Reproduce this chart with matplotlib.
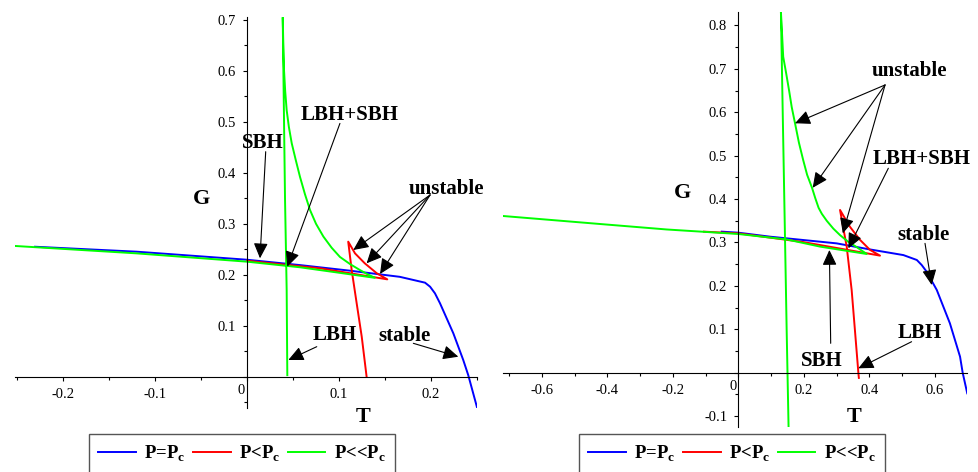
import matplotlib
matplotlib.use('Agg')
import matplotlib.pyplot as plt
from matplotlib.ticker import MultipleLocator, FuncFormatter

plt.rcParams['font.family'] = 'Liberation Serif'
plt.rcParams['mathtext.fontset'] = 'custom'
plt.rcParams['mathtext.rm'] = 'Liberation Serif'
plt.rcParams['mathtext.bf'] = 'Liberation Serif:bold'

# ---------- left panel: G(T) curves ----------
# P = Pc
l_blue_T = [-0.2304, -0.12, 0.0, 0.0576, 0.112, 0.166, 0.1935, 0.199, 0.2043, 0.2098, 0.2243, 0.235, 0.2405, 0.2503]
l_blue_G = [0.255, 0.2453, 0.2295, 0.219, 0.208, 0.196, 0.1845, 0.1766, 0.1636, 0.144, 0.085, 0.033, 0.003, -0.062]
# P < Pc  (small BH branch -> cusp -> unstable -> large BH branch)
l_red_T = [0.0, 0.0793, 0.1525, 0.141, 0.128, 0.1174, 0.110, 0.1138, 0.1192, 0.1247, 0.130]
l_red_G = [0.2275, 0.2127, 0.191, 0.203, 0.2225, 0.242, 0.265, 0.209, 0.144, 0.0785, 0.0]
# P << Pc
l_green_T = [-0.252, -0.12, 0.0, 0.0576, 0.1, 0.139, 0.131, 0.123, 0.112, 0.101, 0.092, 0.083, 0.075,
             0.0685, 0.063, 0.0576, 0.053, 0.0486, 0.0455, 0.0431, 0.0415, 0.0402, 0.0395, 0.0388,
             0.0413, 0.0431, 0.0438]
l_green_G = [0.2565, 0.242, 0.2257, 0.2147, 0.204, 0.194, 0.201, 0.209, 0.221, 0.235, 0.253, 0.275, 0.30,
             0.327, 0.358, 0.392, 0.425, 0.458, 0.49, 0.523, 0.56, 0.602, 0.65, 0.705,
             0.35, 0.17, 0.003]

# ---------- right panel ----------
r_blue_T = [-0.0507, 0.0, 0.0968, 0.300, 0.402, 0.504, 0.545, 0.56, 0.575, 0.606, 0.646, 0.677, 0.685, 0.699]
r_blue_G = [0.325, 0.3226, 0.3134, 0.298, 0.284, 0.271, 0.2597, 0.248, 0.2327, 0.1905, 0.1138, 0.0369, 0.0, -0.0475]
r_red_T = [-0.105, 0.0, 0.198, 0.4327, 0.402, 0.3716, 0.341, 0.3105, 0.331, 0.346, 0.356, 0.3665, 0.368]
r_red_G = [0.325, 0.321, 0.301, 0.2697, 0.283, 0.306, 0.336, 0.375, 0.290, 0.1906, 0.098, 0.0, -0.012]
r_green_T = [-0.7176, -0.4223, -0.2187, 0.0, 0.148, 0.2495, 0.392, 0.36, 0.335, 0.3105, 0.29, 0.27, 0.255,
             0.245, 0.235, 0.225, 0.21, 0.198, 0.185, 0.173, 0.163, 0.155, 0.146, 0.137, 0.130,
             0.1355, 0.1426, 0.1475, 0.1535]
r_green_G = [0.361, 0.3426, 0.330, 0.3196, 0.307, 0.2905, 0.2735, 0.29, 0.302, 0.317, 0.332, 0.35, 0.366,
             0.38, 0.402, 0.426, 0.456, 0.49, 0.53, 0.575, 0.612, 0.65, 0.69, 0.728, 0.832,
             0.6, 0.306, 0.1, -0.13]

legend_labels = ['P=P$_\\mathbf{c}$', 'P<P$_\\mathbf{c}$', 'P<<P$_\\mathbf{c}$']

# annotations: (text, text position, [(arrow start, arrow tip), ...])
l_notes = [
    ('SBH', (0.0177, 0.458), [((0.0203, 0.4415), (0.0141, 0.2323))]),
    ('LBH+SBH', (0.112, 0.5135), [((0.101, 0.497), (0.0438, 0.2159))]),
    ('unstable', (0.2163, 0.3677), [((0.199, 0.3566), (0.1155, 0.2486)),
                                    ((0.199, 0.3566), (0.130, 0.2225)),
                                    ((0.199, 0.3566), (0.1446, 0.2015))]),
    ('LBH', (0.0957, 0.0818), [((0.0758, 0.0589), (0.0449, 0.0328))]),
    ('stable', (0.1707, 0.0799), [((0.1808, 0.0655), (0.2297, 0.0392))]),
]
r_notes = [
    ('unstable', (0.522, 0.695), [((0.448, 0.663), (0.173, 0.5747)),
                                  ((0.448, 0.663), (0.227, 0.426)),
                                  ((0.448, 0.663), (0.319, 0.321))]),
    ('LBH+SBH', (0.560, 0.4917), [((0.458, 0.471), (0.336, 0.2866))]),
    ('stable', (0.565, 0.3173), [((0.570, 0.298), (0.5905, 0.202))]),
    ('SBH', (0.2547, 0.027), [((0.282, 0.0677), (0.278, 0.2827))]),
    ('LBH', (0.5548, 0.0922), [((0.529, 0.0714), (0.3664, 0.0101))]),
]


def fmt(v, pos):
    if abs(v) < 1e-9:
        return ''
    return '%g' % round(v, 3)


def setup_axes(ax, xlim, ylim, xmaj, xmin, ymaj, ymin):
    ax.set_xlim(*xlim)
    ax.set_ylim(*ylim)
    for s in ['top', 'right']:
        ax.spines[s].set_visible(False)
    ax.spines['left'].set_position(('data', 0))
    ax.spines['bottom'].set_position(('data', 0))
    ax.xaxis.set_major_locator(MultipleLocator(xmaj))
    ax.xaxis.set_minor_locator(MultipleLocator(xmin))
    ax.yaxis.set_major_locator(MultipleLocator(ymaj))
    ax.yaxis.set_minor_locator(MultipleLocator(ymin))
    ax.xaxis.set_major_formatter(FuncFormatter(fmt))
    ax.yaxis.set_major_formatter(FuncFormatter(fmt))
    ax.tick_params(which='major', direction='out', length=3, width=0.8, labelsize=10.5, pad=5)
    ax.tick_params(which='minor', direction='out', length=2, width=0.8)
    ax.annotate('0', xy=(0, 0), xytext=(-4, -10), textcoords='offset points',
                ha='center', va='center', fontsize=10.5)


def draw_panel(ax, blue, red, green, notes, g_pos, t_pos, legend_anchor):
    h1, = ax.plot(blue[0], blue[1], color='#0000ff', lw=1.4)
    h2, = ax.plot(red[0], red[1], color='#ff0000', lw=1.4)
    h3, = ax.plot(green[0], green[1], color='#00ff00', lw=1.4)
    for text, pos, arrows in notes:
        ax.text(pos[0], pos[1], text, ha='center', va='center', fontsize=15, fontweight='bold')
        for start, tip in arrows:
            ax.annotate('', xy=tip, xytext=start,
                        arrowprops=dict(arrowstyle='-|>,head_length=0.62,head_width=0.29',
                                        mutation_scale=15, color='black', lw=0.8,
                                        shrinkA=0, shrinkB=0))
    ax.text(g_pos[0], g_pos[1], 'G', ha='center', va='center', fontsize=16, fontweight='bold')
    ax.text(t_pos[0], t_pos[1], 'T', ha='center', va='center', fontsize=16, fontweight='bold',
            clip_on=False)
    leg = ax.legend([h1, h2, h3], legend_labels, loc='upper left', ncol=3,
                    bbox_to_anchor=legend_anchor, bbox_transform=ax.figure.transFigure,
                    borderaxespad=0, prop={'size': 13.5, 'weight': 'bold'},
                    handlelength=2.0, handletextpad=0.45, columnspacing=0.4,
                    borderpad=0.5, fancybox=False, framealpha=1)
    leg.get_frame().set_edgecolor('#555555')
    leg.get_frame().set_linewidth(1.0)


W, H = 979, 472
fig = plt.figure(figsize=(W / 100, H / 100), dpi=100)

ax1 = fig.add_axes([15.2 / W, 1 - 408.3 / H, 461.8 / W, 390.9 / H])
setup_axes(ax1, (-0.252, 0.25), (-0.062, 0.705), 0.1, 0.05, 0.1, 0.05)
draw_panel(ax1, (l_blue_T, l_blue_G), (l_red_T, l_red_G), (l_green_T, l_green_G), l_notes,
           (-0.05, 0.3486), (0.126, -0.079), (89 / W, 1 - 434 / H))

ax2 = fig.add_axes([503.2 / W, 1 - 426.95 / H, 463.4 / W, 415.35 / H])
setup_axes(ax2, (-0.718, 0.697), (-0.125, 0.832), 0.2, 0.1, 0.1, 0.05)
draw_panel(ax2, (r_blue_T, r_blue_G), (r_red_T, r_red_G), (r_green_T, r_green_G), r_notes,
           (-0.17, 0.414), (0.353, -0.102), (579 / W, 1 - 434 / H))

fig.savefig('out.png', dpi=100)
